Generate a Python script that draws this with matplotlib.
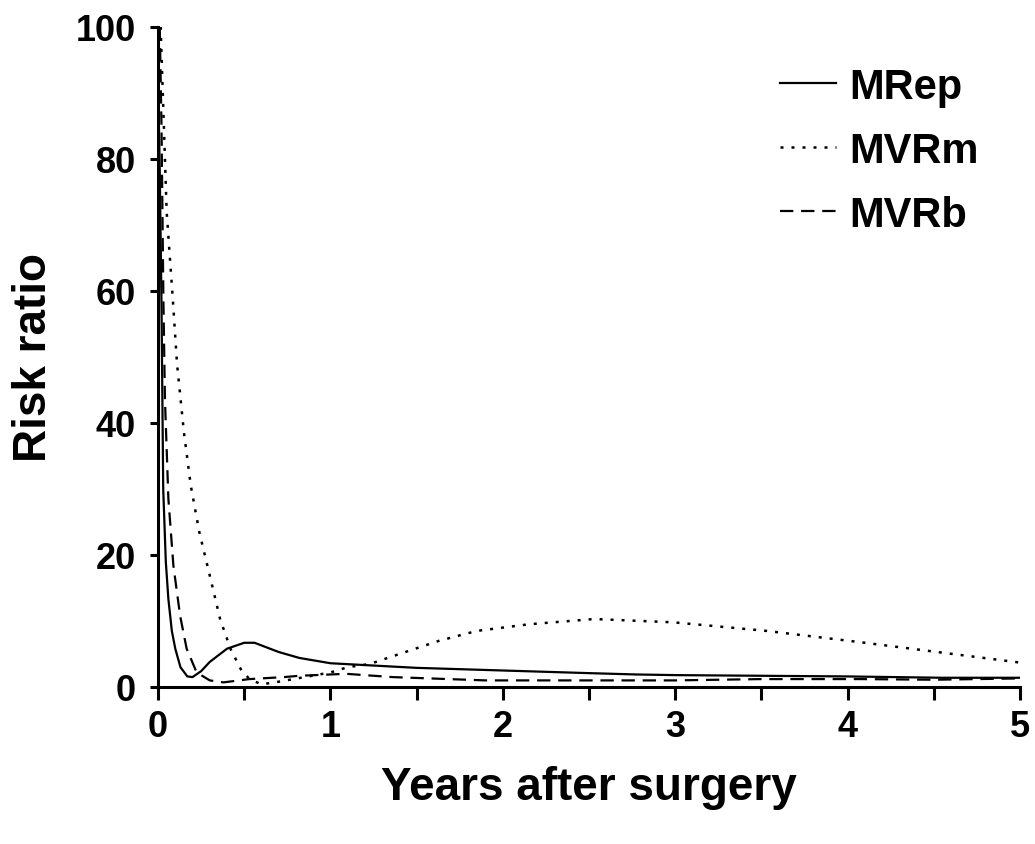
import matplotlib
matplotlib.use("Agg")
import matplotlib.pyplot as plt
from matplotlib.ticker import MultipleLocator

plt.rcParams["font.family"] = ["Liberation Sans", "DejaVu Sans"]
plt.rcParams["font.weight"] = "bold"

# values (years after surgery, risk ratio)
mrep_x = [0.0, 0.01, 0.02, 0.03, 0.045, 0.06, 0.08, 0.1, 0.13, 0.17, 0.2, 0.25, 0.3, 0.4, 0.5,
          0.56, 0.7, 0.82, 1.0, 1.5, 2.0, 2.5, 2.77, 3.0, 3.5, 4.0, 4.55, 5.0]
mrep_y = [92, 78, 58, 30, 19, 13.3, 8.5, 5.8, 3.0, 1.6, 1.5, 2.4, 3.8, 5.8, 6.7,
          6.7, 5.3, 4.4, 3.6, 2.9, 2.5, 2.1, 1.9, 1.8, 1.7, 1.6, 1.4, 1.4]

mvrm_x = [0.015, 0.03, 0.05, 0.085, 0.11, 0.15, 0.19, 0.24, 0.3, 0.36, 0.42, 0.48, 0.53, 0.6,
          0.7, 0.85, 1.0, 1.1, 1.23, 1.4, 1.63, 1.85, 2.15, 2.53, 2.99, 3.53, 4.07, 4.61, 5.0]
mvrm_y = [100, 88, 72, 59, 49, 38.6, 30.5, 23.4, 16.9, 10.3, 5.8, 2.7, 1.2, 0.4,
          0.8, 1.5, 2.2, 3.0, 3.5, 5.0, 7.0, 8.5, 9.5, 10.3, 9.8, 8.5, 6.8, 5.0, 3.7]

mvrb_x = [0.01, 0.02, 0.031, 0.04, 0.06, 0.089, 0.128, 0.166, 0.224, 0.3, 0.38, 0.53, 0.73,
          0.82, 1.09, 1.36, 1.9, 3.0, 3.5, 4.07, 4.5, 5.0]
mvrb_y = [100, 85, 58.8, 43.6, 28.5, 18.4, 10.8, 5.8, 2.2, 1.0, 0.7, 1.2, 1.5,
          1.7, 2.0, 1.5, 1.0, 1.0, 1.2, 1.2, 1.1, 1.3]

fig = plt.figure(figsize=(10.35, 8.45), dpi=100)
ax = fig.add_axes([0.1527, 0.1858, 0.8328, 0.7811])

ax.plot(mrep_x, mrep_y, color="black", linewidth=1.6, linestyle="-", label="MRep")
ax.plot(mvrm_x, mvrm_y, color="black", linewidth=1.8, linestyle=(0, (1.2, 3.2)), label="MVRm")
ax.plot(mvrb_x, mvrb_y, color="black", linewidth=1.6, linestyle=(0, (6, 3.5)), label="MVRb")

ax.set_xlim(0, 5)
ax.set_ylim(0, 100)
ax.xaxis.set_major_locator(MultipleLocator(1))
ax.xaxis.set_minor_locator(MultipleLocator(0.5))
ax.yaxis.set_major_locator(MultipleLocator(20))

for side in ["top", "right"]:
    ax.spines[side].set_visible(False)
for side in ["left", "bottom"]:
    ax.spines[side].set_linewidth(2.2)

ax.tick_params(axis="y", which="major", length=6, width=2.2, direction="out", labelsize=26, pad=10)
ax.tick_params(axis="x", which="both", length=9, width=2.2, direction="out", labelsize=26, pad=7)
for lab in ax.get_xticklabels() + ax.get_yticklabels():
    lab.set_fontweight("bold")

ax.set_xlabel("Years after surgery", fontsize=33, fontweight="bold", labelpad=15)
ax.set_ylabel("Risk ratio", fontsize=33, fontweight="bold", labelpad=14)

leg = ax.legend(loc="upper left", frameon=False, handlelength=1.35,
                handletextpad=0.32, labelspacing=0.58, borderpad=0, borderaxespad=0,
                bbox_to_anchor=(0.7216, 0.94),
                prop={"size": 30, "weight": "bold"})

fig.savefig("out.png", dpi=100)
